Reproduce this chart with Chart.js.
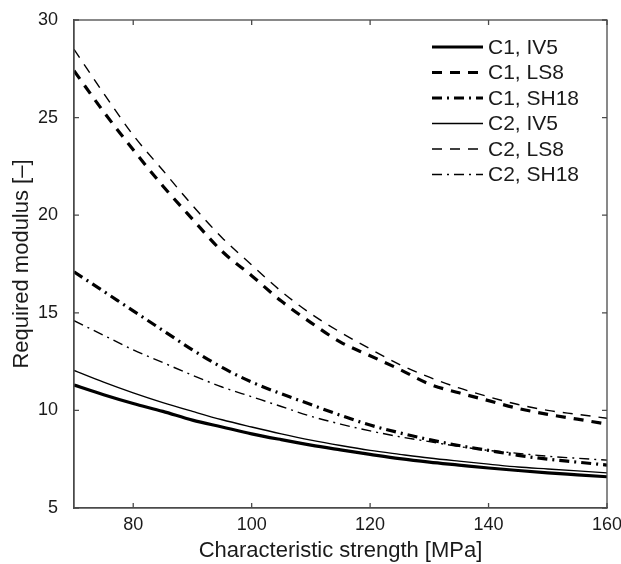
<!DOCTYPE html>
<html lang="en">
<head>
<meta charset="UTF-8">
<title>Required modulus</title>
<script src="https://cdn.jsdelivr.net/npm/chart.js"></script>
<style>
  html, body { margin: 0; padding: 0; background: #fff; }
  #wrap { width: 621px; height: 564px; }
</style>
</head>
<body>
<div id="wrap"><canvas id="modulusChart" width="621" height="564"></canvas></div>
<script>
// characteristic strength [MPa]
const strength = [70, 75, 80, 85, 90, 95, 100, 105, 110, 115, 120, 125, 130, 135, 140, 145, 150, 155, 160];

// required modulus [-]
const c1IV5  = [11.3, 10.8, 10.35, 9.95, 9.5, 9.15, 8.8, 8.5, 8.22, 7.98, 7.75, 7.53, 7.35, 7.2, 7.05, 6.92, 6.8, 6.7, 6.6];
const c1LS8  = [27.4, 25.3, 23.35, 21.5, 19.8, 18.15, 16.9, 15.6, 14.5, 13.5, 12.8, 12.1, 11.35, 10.9, 10.5, 10.1, 9.8, 9.55, 9.3];
const c1SH18 = [17.1, 16.1, 15.1, 14.1, 13.1, 12.2, 11.45, 10.85, 10.3, 9.75, 9.25, 8.85, 8.5, 8.2, 7.95, 7.7, 7.5, 7.35, 7.2];
const c2IV5  = [12.05, 11.45, 10.9, 10.4, 9.95, 9.52, 9.15, 8.8, 8.48, 8.2, 7.95, 7.75, 7.56, 7.4, 7.25, 7.1, 7.0, 6.9, 6.8];
const c2LS8  = [28.5, 26.25, 24.1, 22.3, 20.5, 18.85, 17.45, 16.1, 14.95, 14.0, 13.15, 12.35, 11.7, 11.15, 10.7, 10.3, 10.0, 9.8, 9.6];
const c2SH18 = [14.6, 13.85, 13.1, 12.45, 11.8, 11.2, 10.7, 10.2, 9.7, 9.3, 8.95, 8.65, 8.4, 8.15, 7.95, 7.8, 7.65, 7.55, 7.45];

const seriesLabels = ['C1, IV5', 'C1, LS8', 'C1, SH18', 'C2, IV5', 'C2, LS8', 'C2, SH18'];
const xTicks = [80, 100, 120, 140, 160];
const yTicks = [5, 10, 15, 20, 25, 30];

const FONT = '"Liberation Sans", Arial, Helvetica, sans-serif';
const AXIS = '#4a4a4a';
const TEXT = '#1a1a1a';

function series(label, values, width, dash) {
    return {
        label: label,
        data: strength.map((s, i) => ({ x: s, y: values[i] })),
        borderColor: '#000',
        borderWidth: width,
        borderDash: dash,
        pointRadius: 0,
        fill: false,
        cubicInterpolationMode: 'monotone'
    };
}

const DASH = [10, 8];
const DASHDOT = [10, 5, 2, 5];

const datasets = [
    series(seriesLabels[0], c1IV5, 3.2, []),
    series(seriesLabels[1], c1LS8, 3.2, DASH),
    series(seriesLabels[2], c1SH18, 3.2, DASHDOT),
    series(seriesLabels[3], c2IV5, 1.4, []),
    series(seriesLabels[4], c2LS8, 1.4, DASH),
    series(seriesLabels[5], c2SH18, 1.4, DASHDOT)
];

// box around plot + ticks pointing inward on all sides + legend
const frame = {
    id: 'frame',
    afterDraw(chart) {
        const ctx = chart.ctx;
        const a = chart.chartArea;
        const xs = chart.scales.x, ys = chart.scales.y;
        ctx.save();
        ctx.strokeStyle = AXIS;
        ctx.lineWidth = 1.3;
        ctx.strokeRect(a.left, a.top, a.right - a.left, a.bottom - a.top);
        ctx.beginPath();
        xTicks.forEach(v => {
            const px = xs.getPixelForValue(v);
            ctx.moveTo(px, a.bottom); ctx.lineTo(px, a.bottom - 5);
            ctx.moveTo(px, a.top); ctx.lineTo(px, a.top + 5);
        });
        yTicks.forEach(v => {
            const py = ys.getPixelForValue(v);
            ctx.moveTo(a.left, py); ctx.lineTo(a.left + 5, py);
            ctx.moveTo(a.right, py); ctx.lineTo(a.right - 5, py);
        });
        ctx.stroke();

        const x0 = 432, x1 = 483, tx = 488, y0 = 47, step = 25.5;
        ctx.font = '21px ' + FONT;
        ctx.textBaseline = 'middle';
        ctx.fillStyle = TEXT;
        chart.data.datasets.forEach((ds, i) => {
            const y = y0 + i * step;
            ctx.beginPath();
            ctx.strokeStyle = '#000';
            ctx.lineWidth = ds.borderWidth;
            ctx.setLineDash(ds.borderDash);
            ctx.moveTo(x0, y); ctx.lineTo(x1, y);
            ctx.stroke();
            ctx.setLineDash([]);
            ctx.fillText(ds.label, tx, y + 1);
        });
        ctx.restore();
    }
};

new Chart(document.getElementById('modulusChart'), {
    type: 'line',
    data: { datasets: datasets },
    options: {
        responsive: false,
        animation: false,
        layout: { padding: { top: 20, right: 14, left: 0, bottom: 0 } },
        plugins: { legend: { display: false }, tooltip: { enabled: false } },
        scales: {
            x: {
                type: 'linear',
                min: 70,
                max: 160,
                afterBuildTicks: s => { s.ticks = xTicks.map(v => ({ value: v })); },
                afterFit: s => { s.height = 56; },
                grid: { display: false },
                border: { display: true, color: AXIS, width: 1.3 },
                ticks: { color: TEXT, font: { family: FONT, size: 18 }, padding: -2, maxRotation: 0 },
                title: { display: true, text: 'Characteristic strength [MPa]', color: TEXT,
                         font: { family: FONT, size: 22 }, padding: { top: 0, bottom: 0 } }
            },
            y: {
                type: 'linear',
                min: 5,
                max: 30,
                afterBuildTicks: s => { s.ticks = yTicks.map(v => ({ value: v })); },
                afterFit: s => { s.width = 74; },
                grid: { display: false },
                border: { display: true, color: AXIS, width: 1.3 },
                ticks: { color: TEXT, font: { family: FONT, size: 18 }, padding: 8 },
                title: { display: true, text: 'Required modulus [–]', color: TEXT,
                         font: { family: FONT, size: 22 }, padding: { top: 9, bottom: 0 } }
            }
        }
    },
    plugins: [frame]
});
</script>
</body>
</html>
